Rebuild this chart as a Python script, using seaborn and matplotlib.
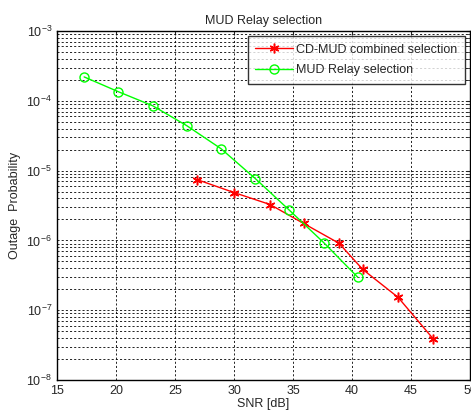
import numpy as np
import pandas as pd
import matplotlib
matplotlib.use("Agg")
import matplotlib.pyplot as plt
import seaborn as sns
from matplotlib.ticker import LogLocator, NullFormatter

# CD-MUD combined selection
snr_cd = [26.9, 30.0, 33.05, 35.9, 38.9, 40.9, 43.9, 46.9]
pout_cd = [7.4e-6, 4.85e-6, 3.27e-6, 1.75e-6, 9.1e-7, 3.85e-7, 1.53e-7, 3.85e-8]

# MUD Relay selection
snr_mud = [17.3, 20.2, 23.1, 26.0, 28.9, 31.8, 34.7, 37.6, 40.5]
pout_mud = [2.2e-4, 1.35e-4, 8.5e-5, 4.4e-5, 2.06e-5, 7.7e-6, 2.7e-6, 9.3e-7, 2.95e-7]

sns.set_style("white")
plt.rcParams["font.family"] = ["Liberation Sans", "DejaVu Sans"]
plt.rcParams["font.size"] = 9

fig = plt.figure(figsize=(4.71, 4.19), dpi=100)
ax = fig.add_axes([0.121, 0.093, 0.877, 0.833])

df_cd = pd.DataFrame({"snr": snr_cd, "p": pout_cd})
df_mud = pd.DataFrame({"snr": snr_mud, "p": pout_mud})

sns.lineplot(data=df_cd, x="snr", y="p", ax=ax, color="red", marker=(6, 2, 0),
             markersize=7, markeredgecolor="red", markeredgewidth=1.1, linewidth=1,
             label="CD-MUD combined selection")
sns.lineplot(data=df_mud, x="snr", y="p", ax=ax, color="#00ff00", marker="o",
             markersize=6.5, markerfacecolor="none", markeredgecolor="#00ff00",
             markeredgewidth=1, linewidth=1, label="MUD Relay selection")

ax.set_yscale("log")
ax.set_xlim(15, 50)
ax.set_ylim(1e-8, 1e-3)
ax.set_xticks([15, 20, 25, 30, 35, 40, 45, 50])
ax.yaxis.set_major_locator(LogLocator(base=10, numticks=10))
ax.yaxis.set_minor_locator(LogLocator(base=10, subs=np.arange(2, 10), numticks=20))
ax.yaxis.set_minor_formatter(NullFormatter())

ax.grid(True, which="major", color="black", linestyle=(0, (2.5, 2.5)), linewidth=0.6)
ax.grid(True, which="minor", axis="y", color="black", linestyle=(0, (2.5, 2.5)), linewidth=0.6)
ax.tick_params(direction="in", which="both", top=True, right=True, labelsize=9, length=3)
ax.tick_params(which="minor", length=2)
for s in ax.spines.values():
    s.set_color("black")
    s.set_linewidth(1)

ax.set_title("MUD Relay selection", fontsize=9, pad=5)
ax.set_xlabel("SNR [dB]", fontsize=9, labelpad=1)
ax.set_ylabel("Outage  Probability", fontsize=9, labelpad=4)

leg = ax.legend(loc="upper right", fontsize=9, frameon=True, fancybox=False,
                borderaxespad=0.4, handlelength=3.0, handletextpad=0.3,
                borderpad=0.6, labelspacing=0.7)
leg.get_frame().set_edgecolor("black")
leg.get_frame().set_linewidth(1)

fig.savefig("out.png", dpi=100)
